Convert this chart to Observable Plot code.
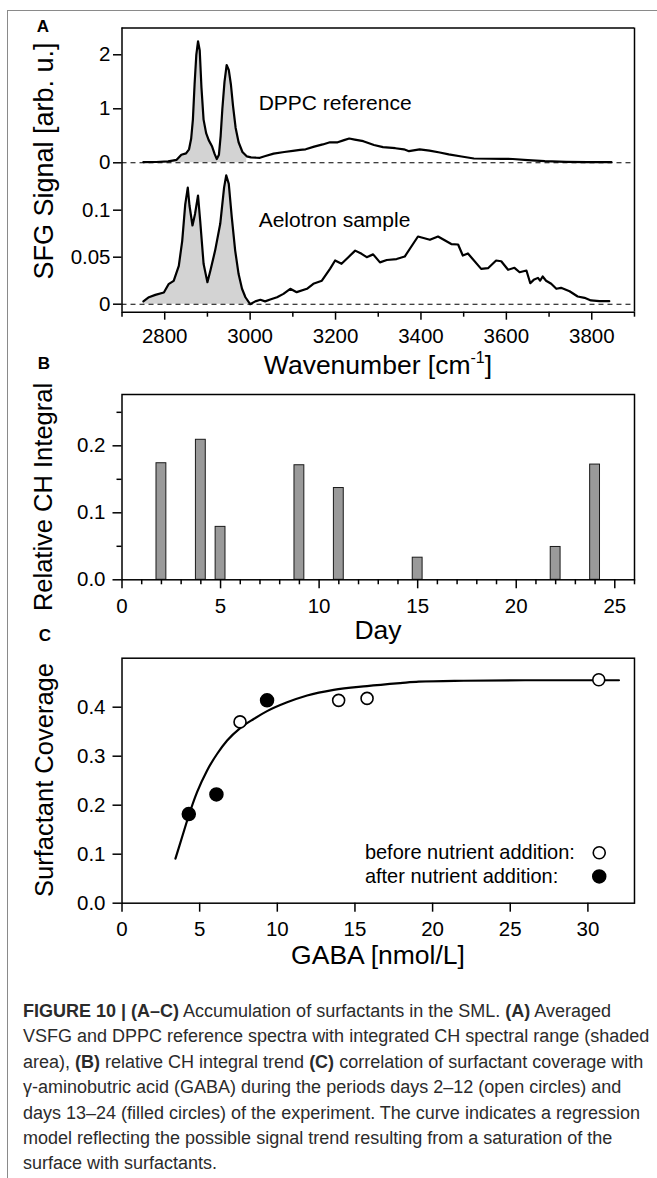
<!DOCTYPE html>
<html><head><meta charset="utf-8">
<script src="https://cdn.jsdelivr.net/npm/d3@7"></script>
<script src="https://cdn.jsdelivr.net/npm/@observablehq/plot@0.6"></script>
<style>
html,body{margin:0;padding:0;background:#fff;}
#page{position:relative;width:657px;height:1178px;overflow:hidden;font-family:"Liberation Sans",Arial,Helvetica,sans-serif;color:#000;}
.bt{position:absolute;left:7px;top:10px;width:650px;height:0;border-top:1.5px solid #8a8a8a;}
.bl{position:absolute;left:7px;top:10px;width:0;height:1168px;border-left:1.5px solid #8a8a8a;}
.ylab{position:absolute;transform:translate(-50%,-50%) rotate(-90deg);white-space:nowrap;font-size:25.5px;line-height:1;}
.xlab{position:absolute;transform:translate(-50%,-50%);white-space:nowrap;font-size:26.5px;line-height:1;}
.xlab sup{font-size:16px;vertical-align:11px;line-height:0;}
.letter{position:absolute;transform:translate(-50%,-50%);font-weight:bold;font-size:17px;line-height:1;}
#caption{position:absolute;left:23px;top:999px;font-size:18px;line-height:25.4px;color:#2b2b2b;white-space:nowrap;}
#caption b{font-weight:bold;}
svg{position:absolute;left:0;}
</style>
</head><body>
<div id="page">
  <div class="bt"></div><div class="bl"></div>
  <div class="letter" style="left:43px;top:26px;">A</div>
  <div class="letter" style="left:44px;top:363px;">B</div>
  <div class="letter" style="left:45px;top:635px;">C</div>
  <div class="ylab" style="left:44px;top:161px;font-size:27px;">SFG Signal [arb. u.]</div>
  <div class="ylab" style="left:44px;top:497px;">Relative CH Integral</div>
  <div class="ylab" style="left:45px;top:780px;">Surfactant Coverage</div>
  <div class="xlab" style="left:378px;top:365px;">Wavenumber [cm<sup>-1</sup>]</div>
  <div class="xlab" style="left:378px;top:630px;">Day</div>
  <div class="xlab" style="left:378px;top:955px;">GABA [nmol/L]</div>
  <div id="caption"><b>FIGURE 10 | (A–C)</b> Accumulation of surfactants in the SML. <b>(A)</b> Averaged<br>VSFG and DPPC reference spectra with integrated CH spectral range (shaded<br>area), <b>(B)</b> relative CH integral trend <b>(C)</b> correlation of surfactant coverage with<br>γ-aminobutric acid (GABA) during the periods days 2–12 (open circles) and<br>days 13–24 (filled circles) of the experiment. The curve indicates a regression<br>model reflecting the possible signal trend resulting from a saturation of the<br>surface with surfactants.</div>
</div>
<script>
// ---------- DATA ----------
// Panel A: DPPC reference spectrum (wavenumber, signal)
const dppcWn  = [2750,2780,2808,2828,2839,2850,2857,2862,2866,2870,2874,2878,2882,2886,2891,2897,2903,2911,2917,2922,2927,2931,2935,2940,2945,2950,2955,2960,2966,2973,2982,2992,3002,3014,3023,3034,3055,3080,3100,3117,3130,3150,3170,3187,3205,3220,3232,3245,3265,3290,3311,3340,3360,3372,3397,3420,3444,3465,3495,3524,3560,3590,3615,3650,3690,3740,3789,3846];
const dppcSig = [0.012,0.015,0.025,0.055,0.15,0.175,0.25,0.45,0.8,1.46,2.0,2.25,2.08,1.4,0.8,0.55,0.42,0.3,0.16,0.07,0.15,0.5,1.0,1.5,1.81,1.72,1.45,1.05,0.65,0.38,0.2,0.12,0.1,0.095,0.093,0.12,0.17,0.2,0.22,0.24,0.25,0.3,0.34,0.38,0.38,0.42,0.45,0.43,0.4,0.33,0.29,0.27,0.25,0.215,0.25,0.225,0.19,0.155,0.117,0.08,0.075,0.074,0.07,0.05,0.03,0.018,0.013,0.012];
// Panel A: Aelotron sample spectrum
const aeloWn  = [2750,2763,2778,2798,2809,2821,2833,2841,2848,2854,2858,2865,2871,2878,2883,2891,2896,2900,2907,2918,2930,2939,2944,2950,2957,2965,2973,2981,2989,3000,3012,3024,3035,3047,3063,3078,3094,3109,3133,3148,3168,3187,3199,3214,3230,3246,3261,3273,3288,3304,3320,3343,3362,3393,3421,3440,3471,3487,3498,3510,3541,3557,3576,3588,3604,3619,3631,3647,3656,3664,3674,3679,3685,3693,3705,3717,3728,3748,3767,3783,3798,3818,3841];
const aeloSig = [0.003,0.0074,0.0099,0.0124,0.0213,0.0248,0.0408,0.0674,0.106,0.124,0.105,0.0837,0.096,0.1156,0.089,0.043,0.032,0.0234,0.0358,0.057,0.0855,0.124,0.137,0.128,0.0926,0.057,0.032,0.0164,0.0074,0.0,0.003,0.0047,0.003,0.005,0.0074,0.011,0.0164,0.0128,0.0164,0.0217,0.025,0.0376,0.0465,0.043,0.050,0.057,0.0536,0.050,0.053,0.0445,0.047,0.048,0.0507,0.072,0.0685,0.072,0.064,0.0635,0.0518,0.054,0.0376,0.0383,0.0465,0.0457,0.0366,0.0387,0.034,0.0358,0.0223,0.0259,0.028,0.025,0.0295,0.025,0.0217,0.0164,0.0174,0.0138,0.0082,0.0068,0.004,0.0032,0.0032];
const shadeEndWn = 2995;
const labelTop = ["DPPC reference"];
const labelBottom = ["Aelotron sample"];

// Panel B: relative CH integral per day
const days = [2,4,5,9,11,15,22,24];
const chIntegral = [0.174,0.209,0.079,0.171,0.137,0.033,0.049,0.172];

// Panel C: surfactant coverage vs GABA
const gabaBefore = [7.6,13.95,15.78,30.7];
const covBefore  = [0.370,0.414,0.418,0.456];
const gabaAfter  = [4.3,6.08,9.34];
const covAfter   = [0.182,0.222,0.414];
// regression curve
const curveX = [3.44,3.87,4.3,4.84,5.48,6.13,6.77,7.63,8.48,9.34,10.63,11.92,13.63,15.78,17.92,19.1,22,26,29,32];
const curveY = [0.091,0.135,0.179,0.227,0.271,0.305,0.332,0.358,0.376,0.392,0.410,0.424,0.4355,0.443,0.449,0.452,0.454,0.455,0.455,0.455];
const legendLabels = ["before nutrient addition:","after nutrient addition:"];

// ---------- BUILD ----------
const dppc = dppcWn.map((wn,i)=>({wn, v: dppcSig[i]}));
const aelo = aeloWn.map((wn,i)=>({wn, v: aeloSig[i]}));
const bars = days.map((day,i)=>({day, v: chIntegral[i]}));
const before = gabaBefore.map((g,i)=>({g, c: covBefore[i]}));
const after = gabaAfter.map((g,i)=>({g, c: covAfter[i]}));
const curve = curveX.map((g,i)=>({g, c: curveY[i]}));

const ff = '"Liberation Sans", Arial, Helvetica, sans-serif';
const style = {fontFamily: ff, fontSize: "20px", color: "black", background: "transparent", overflow: "visible"};
const base = {width: 657, marginLeft: 121.5, marginRight: 23, style};
const page = document.getElementById("page");
function place(svg, top){ svg.style.position = "absolute"; svg.style.left = "0px"; svg.style.top = top + "px"; page.appendChild(svg); }

// Panel A top (DPPC)
const aTopDomain = [-0.087, 2.496];
place(Plot.plot({
  ...base, height: 167, marginTop: 27.5, marginBottom: 0,
  x: {domain: [2700, 3900], axis: null},
  y: {domain: aTopDomain},
  marks: [
    Plot.areaY(dppc.filter(d => d.wn <= shadeEndWn), {x: "wn", y: "v", fill: "#d3d3d3"}),
    Plot.ruleY([0], {strokeDasharray: "5,4", strokeWidth: 1.1}),
    Plot.lineY(dppc, {x: "wn", y: "v", strokeWidth: 2.2, strokeLinejoin: "round"}),
    Plot.text(labelTop, {x: 3020, y: 1.1, text: d => d, textAnchor: "start", fontSize: 21}),
    Plot.axisY({ticks: [0,1,2], tickSize: 8.5, tickPadding: 3, strokeWidth: 1.5, tickFormat: d => String(d), label: null, fontSize: 20.5}),
    Plot.ruleX([2700, 3900], {strokeWidth: 1.5}),
    Plot.ruleY([aTopDomain[1]], {strokeWidth: 1.5})
  ]
}), 0);

// Panel A bottom (Aelotron)
const aBotDomain = [-0.0085, 0.1454];
place(Plot.plot({
  ...base, height: 214.7, marginTop: 0, marginBottom: 70,
  x: {domain: [2700, 3900]},
  y: {domain: aBotDomain},
  marks: [
    Plot.areaY(aelo.filter(d => d.wn <= 3000), {x: "wn", y: "v", fill: "#d3d3d3"}),
    Plot.ruleY([0], {strokeDasharray: "5,4", strokeWidth: 1.1}),
    Plot.lineY(aelo, {x: "wn", y: "v", strokeWidth: 2.2, strokeLinejoin: "round"}),
    Plot.text(labelBottom, {x: 3020, y: 0.089, text: d => d, textAnchor: "start", fontSize: 21}),
    Plot.axisY({ticks: [0,0.05,0.1], tickSize: 8.5, tickPadding: 3, strokeWidth: 1.5, tickFormat: d => String(d), label: null, fontSize: 20.5}),
    Plot.axisX({ticks: [2800,3000,3200,3400,3600,3800], tickSize: 8, tickPadding: 8, strokeWidth: 1.5, tickFormat: d => String(d), label: null, fontSize: 20.5}),
    Plot.axisX({ticks: [2700,2900,3100,3300,3500,3700,3900], tickSize: 5, strokeWidth: 1.5, tickFormat: null, text: null, label: null}),
    Plot.ruleX([2700, 3900], {strokeWidth: 1.5}),
    Plot.ruleY([aBotDomain[0]], {strokeWidth: 1.5})
  ]
}), 167);

// Panel B
const f1 = d3.format(".1f");
place(Plot.plot({
  ...base, height: 260, marginTop: 14, marginBottom: 60.7,
  x: {domain: [0, 26]},
  y: {domain: [0, 0.2766]},
  marks: [
    Plot.rectY(bars, {x1: d => d.day - 0.25, x2: d => d.day + 0.25, y: "v", fill: "#9a9a9a", stroke: "#1a1a1a", strokeWidth: 1}),
    Plot.axisY({ticks: [0,0.1,0.2], tickSize: 9, tickPadding: 7.5, strokeWidth: 1.5, tickFormat: f1, label: null, fontSize: 20.5}),
    Plot.axisY({ticks: [0.05,0.15,0.25], tickSize: 5, strokeWidth: 1.5, text: null, label: null}),
    Plot.axisX({ticks: [0,5,10,15,20,25], tickSize: 9, tickPadding: 10, strokeWidth: 1.5, tickFormat: d => String(d), label: null, fontSize: 20.5}),
    Plot.axisX({ticks: d3.range(1, 27).filter(d => d % 5 !== 0), tickSize: 5, strokeWidth: 1.5, text: null, label: null}),
    Plot.frame({strokeWidth: 1.5})
  ]
}), 380);

// Panel C
place(Plot.plot({
  ...base, height: 322.7, marginTop: 17.7, marginBottom: 60,
  x: {domain: [0, 33]},
  y: {domain: [0, 0.5]},
  marks: [
    Plot.line(curve, {x: "g", y: "c", strokeWidth: 2.2, curve: "monotone-x"}),
    Plot.dot(before, {x: "g", y: "c", r: 6, fill: "white", stroke: "black", strokeWidth: 1.6}),
    Plot.dot(after, {x: "g", y: "c", r: 6.5, fill: "black", stroke: "black"}),
    Plot.text(legendLabels, {x: 15.64, y: (d, i) => i === 0 ? 0.1029 : 0.0545, text: d => d, textAnchor: "start", fontSize: 20}),
    Plot.dot([0], {x: 30.73, y: 0.1029, r: 6, fill: "white", stroke: "black", strokeWidth: 1.6}),
    Plot.dot([0], {x: 30.73, y: 0.0545, r: 6.5, fill: "black", stroke: "black"}),
    Plot.axisY({ticks: [0,0.1,0.2,0.3,0.4], tickSize: 9, tickPadding: 7.5, strokeWidth: 1.5, tickFormat: f1, label: null, fontSize: 20.5}),
    Plot.axisX({ticks: [0,5,10,15,20,25,30], tickSize: 9, tickPadding: 9, strokeWidth: 1.5, tickFormat: d => String(d), label: null, fontSize: 20.5}),
    Plot.frame({strokeWidth: 1.5})
  ]
}), 640);
</script>
</body></html>
